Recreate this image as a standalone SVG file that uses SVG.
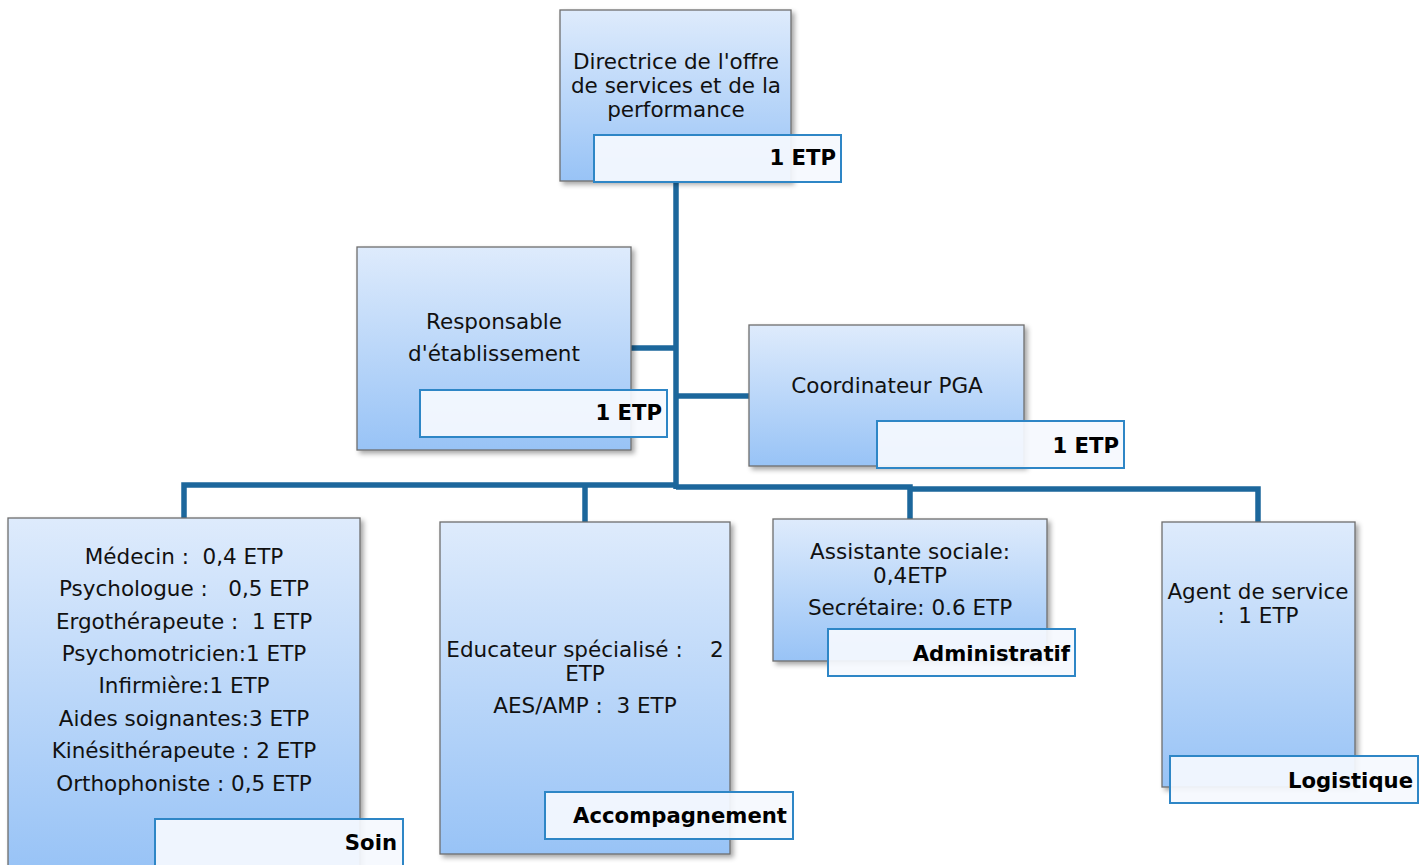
<svg xmlns="http://www.w3.org/2000/svg" width="1426" height="865" viewBox="0 0 1426 865">
<defs>
<linearGradient id="g" x1="0" y1="0" x2="0" y2="1">
<stop offset="0" stop-color="#deebfc"/>
<stop offset="1" stop-color="#98c3f6"/>
</linearGradient>
<filter id="sh" x="-10%" y="-10%" width="130%" height="130%">
<feDropShadow dx="3" dy="3" stdDeviation="2.5" flood-color="#000" flood-opacity="0.35"/>
</filter>
<style>
.box{fill:url(#g);stroke:#6e6e6e;stroke-width:1.3;filter:url(#sh)}
.lab{fill:#f5f9fe;fill-opacity:0.93;stroke:#2e86c6;stroke-width:2}
.t{font-family:"DejaVu Sans",Verdana,sans-serif;font-size:21.5px;fill:#111;text-anchor:middle;white-space:pre}
.b{font-family:"DejaVu Sans",Verdana,sans-serif;font-size:21.2px;font-weight:bold;fill:#000;text-anchor:end}
.c{fill:none;stroke:#1c679c;stroke-width:5.5}
</style>
</defs>
<rect width="1426" height="865" fill="#fff"/>
<g id="connectors">
<path class="c" d="M676,182 V489"/>
<path class="c" d="M676,348 H631"/>
<path class="c" d="M676,396 H749"/>
<path class="c" d="M676,485 H184 V518"/>
<path class="c" d="M585,485 V522"/>
<path class="c" d="M676,487 H910 V519"/>
<path class="c" d="M910,489 H1258 V522"/>
</g>
<g id="n-directrice">
<rect class="box" x="560" y="10" width="231" height="171"/>
<text class="t" x="676" y="69">Directrice de l'offre</text>
<text class="t" x="676" y="93">de services et de la</text>
<text class="t" x="676" y="117">performance</text>
<rect class="lab" x="594" y="135" width="247" height="47"/>
<text class="b" x="836" y="165">1 ETP</text>
</g>
<g id="n-responsable">
<rect class="box" x="357" y="247" width="274" height="203"/>
<text class="t" x="494" y="329">Responsable</text>
<text class="t" x="494" y="361">d'établissement</text>
<rect class="lab" x="420" y="390" width="247" height="47"/>
<text class="b" x="662" y="420">1 ETP</text>
</g>
<g id="n-coordinateur">
<rect class="box" x="749" y="325" width="275" height="141"/>
<text class="t" x="887" y="393">Coordinateur PGA</text>
<rect class="lab" x="877" y="421" width="247" height="47"/>
<text class="b" x="1119" y="453">1 ETP</text>
</g>
<g id="n-soin">
<rect class="box" x="8" y="518" width="352" height="352"/>
<text class="t" x="184" y="564">Médecin :  0,4 ETP</text>
<text class="t" x="184" y="596">Psychologue :   0,5 ETP</text>
<text class="t" x="184" y="629">Ergothérapeute :  1 ETP</text>
<text class="t" x="184" y="661">Psychomotricien:1 ETP</text>
<text class="t" x="184" y="693">Infirmière:1 ETP</text>
<text class="t" x="184" y="726">Aides soignantes:3 ETP</text>
<text class="t" x="184" y="758">Kinésithérapeute : 2 ETP</text>
<text class="t" x="184" y="791">Orthophoniste : 0,5 ETP</text>
<rect class="lab" x="155" y="819" width="248" height="52"/>
<text class="b" x="397" y="850">Soin</text>
</g>
<g id="n-accompagnement">
<rect class="box" x="440" y="522" width="290" height="332"/>
<text class="t" x="585" y="657">Educateur spécialisé :    2</text>
<text class="t" x="585" y="681">ETP</text>
<text class="t" x="585" y="713">AES/AMP :  3 ETP</text>
<rect class="lab" x="545" y="792" width="248" height="47"/>
<text class="b" x="787" y="823">Accompagnement</text>
</g>
<g id="n-administratif">
<rect class="box" x="773" y="519" width="274" height="142"/>
<text class="t" x="910" y="559">Assistante sociale:</text>
<text class="t" x="910" y="583">0,4ETP</text>
<text class="t" x="910" y="615">Secrétaire: 0.6 ETP</text>
<rect class="lab" x="828" y="629" width="247" height="47"/>
<text class="b" x="1070" y="661">Administratif</text>
</g>
<g id="n-logistique">
<rect class="box" x="1162" y="522" width="193" height="265"/>
<text class="t" x="1258" y="599">Agent de service</text>
<text class="t" x="1258" y="623">:  1 ETP</text>
<rect class="lab" x="1170" y="756" width="248" height="47"/>
<text class="b" x="1413" y="788">Logistique</text>
</g>
</svg>
